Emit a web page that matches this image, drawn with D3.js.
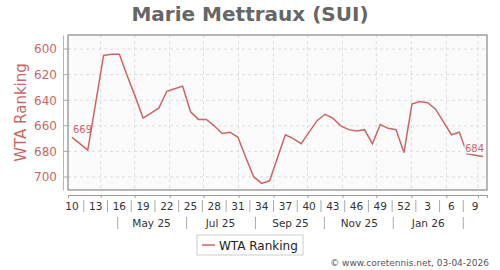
<!DOCTYPE html>
<html>
<head>
<meta charset="utf-8">
<script src="https://cdn.jsdelivr.net/npm/d3@7"></script>
<style>
  body { margin: 0; background: #fff; }
  svg { font-family: "DejaVu Sans", sans-serif; }
</style>
</head>
<body>
<div id="chart"></div>
<script>
// weekly WTA ranking, week 10 2025 .. week 10 2026
const firstWeek = "2025-03-03";
const rankings = [669, 674, 679, 642, 605, 604, 604, 621, 637, 654, 650, 646, 633, 631, 629,
  649, 655, 655, 660, 666, 665, 669, 685, 700, 705, 703, 685, 667, 670, 674, 665, 656, 651,
  654, 660, 663, 664, 663, 674, 659, 662, 663, 681, 643, 641, 642, 647, 657, 667, 665, 682,
  683, 684];
const weekLabels = ["10", "13", "16", "19", "22", "25", "28", "31", "34", "37", "40", "43",
  "46", "49", "52", "3", "6", "9"];
const monthLabels = ["May 25", "Jul 25", "Sep 25", "Nov 25", "Jan 26"];
const yTicks = [600, 620, 640, 660, 680, 700];

const width = 500, height = 270;
const margin = {left: 68, right: 13, top: 35, bottom: 80};
const red = "#cc6666";
const DAY = 864e5;

const start = new Date(firstWeek + "T00:00:00");
const data = rankings.map((v, i) => ({date: new Date(+start + (i * 7 + 3.5) * DAY), value: v}));

const svg = d3.select("#chart").append("svg").attr("width", width).attr("height", height);

const x = d3.scaleTime()
  .domain([start, new Date(+start + 53 * 7 * DAY)])
  .range([margin.left, width - margin.right]);
const y = d3.scaleLinear().domain([589, 710.2]).range([margin.top, height - margin.bottom]);

const plotW = width - margin.right - margin.left;
const plotH = height - margin.bottom - margin.top;

svg.append("text").attr("x", 250).attr("y", 21).attr("text-anchor", "middle")
  .attr("font-size", 20).attr("font-weight", "bold").attr("fill", "#666")
  .text("Marie Mettraux (SUI)");

svg.append("rect").attr("x", margin.left).attr("y", margin.top)
  .attr("width", plotW).attr("height", plotH).attr("fill", "#fafafa");

// grid
const months = d3.timeMonth.range(d3.timeMonth.ceil(x.domain()[0]), x.domain()[1]);
svg.append("g").selectAll("line").data(months).join("line")
  .attr("x1", d => x(d)).attr("x2", d => x(d))
  .attr("y1", margin.top).attr("y2", margin.top + plotH)
  .attr("stroke", "#ddd").attr("stroke-dasharray", "3,3");
svg.append("g").selectAll("line").data(yTicks).join("line")
  .attr("x1", margin.left).attr("x2", margin.left + plotW)
  .attr("y1", d => y(d)).attr("y2", d => y(d))
  .attr("stroke", "#ddd").attr("stroke-dasharray", "3,3");

// line
svg.append("path").datum(data)
  .attr("d", d3.line().x(d => x(d.date)).y(d => y(d.value)))
  .attr("fill", "none").attr("stroke", red).attr("stroke-width", 1.5);

// end labels
const first = data[0], last = data[data.length - 1];
svg.append("text").attr("x", x(first.date) + 1).attr("y", y(first.value) - 4.5)
  .attr("font-size", 10).attr("fill", red).text(first.value);
svg.append("text").attr("x", x(last.date) + 1).attr("y", y(last.value) - 4.5)
  .attr("text-anchor", "end").attr("font-size", 10).attr("fill", red)
  .attr("stroke", "#fafafa").attr("stroke-width", 3).attr("paint-order", "stroke")
  .text(last.value);

svg.append("rect").attr("x", margin.left).attr("y", margin.top)
  .attr("width", plotW).attr("height", plotH).attr("fill", "none")
  .attr("stroke", "#888").attr("stroke-width", 1.2);

// y axis
const yAxis = svg.append("g").attr("transform", `translate(${margin.left - 5},0)`)
  .call(d3.axisLeft(y).tickValues(yTicks).tickSize(0).tickPadding(6));
yAxis.select(".domain").attr("stroke", red).attr("stroke-opacity", 0.6);
yAxis.selectAll("text").attr("font-size", 12).attr("fill", red)
  .attr("font-family", "DejaVu Sans, sans-serif");
svg.append("g").selectAll("line").data(yTicks).join("line")
  .attr("x1", margin.left - 5).attr("x2", margin.left)
  .attr("y1", d => y(d)).attr("y2", d => y(d)).attr("stroke", "#aaa");

svg.append("text")
  .attr("transform", `translate(26,${margin.top + plotH / 2}) rotate(-90)`)
  .attr("text-anchor", "middle").attr("font-size", 15).attr("fill", red)
  .text("WTA Ranking");

// x axis
const axisY = margin.top + plotH + 5;
const xAxis = svg.append("g").attr("transform", `translate(0,${axisY})`)
  .call(d3.axisBottom(x).tickValues(months).tickSize(3).tickFormat(""));
xAxis.select(".domain").attr("stroke", "#999");
xAxis.selectAll(".tick line").attr("stroke", "#999");

const weekPos = weekLabels.map((w, i) => data[i * 3].date);
svg.append("g").selectAll("text").data(weekLabels).join("text")
  .attr("x", (d, i) => x(weekPos[i])).attr("y", axisY + 15)
  .attr("text-anchor", "middle").attr("font-size", 10.5).attr("fill", "#333")
  .text(d => d);
svg.append("g").selectAll("line").data(weekPos.slice(1)).join("line")
  .attr("x1", d => x(new Date(+d - 10.5 * DAY))).attr("x2", d => x(new Date(+d - 10.5 * DAY)))
  .attr("y1", axisY + 5).attr("y2", axisY + 17).attr("stroke", "#aaa");

// month row
const monthDates = monthLabels.map((m, i) => d3.timeMonth.offset(new Date(2025, 4, 16), i * 2));
svg.append("g").selectAll("text").data(monthLabels).join("text")
  .attr("x", (d, i) => x(monthDates[i])).attr("y", axisY + 32)
  .attr("text-anchor", "middle").attr("font-size", 10.5).attr("fill", "#333")
  .text(d => d);
const seps = d3.range(6).map(i => d3.timeMonth.offset(new Date(2025, 3, 16), i * 2));
svg.append("g").selectAll("line").data(seps).join("line")
  .attr("x1", d => x(d)).attr("x2", d => x(d))
  .attr("y1", axisY + 22).attr("y2", axisY + 34).attr("stroke", "#aaa");

// legend
const lg = svg.append("g").attr("transform", "translate(197,235)");
lg.append("rect").attr("width", 106).attr("height", 20).attr("fill", "#fff").attr("stroke", "#ccc");
lg.append("line").attr("x1", 5).attr("x2", 18).attr("y1", 10).attr("y2", 10)
  .attr("stroke", red).attr("stroke-width", 1.5);
lg.append("text").attr("x", 22).attr("y", 14.5).attr("font-size", 12).attr("fill", "#222")
  .text("WTA Ranking");

svg.append("text").attr("x", 489).attr("y", 266).attr("text-anchor", "end")
  .attr("font-size", 9).attr("fill", "#555").text("© www.coretennis.net, 03-04-2026");
</script>
</body>
</html>
